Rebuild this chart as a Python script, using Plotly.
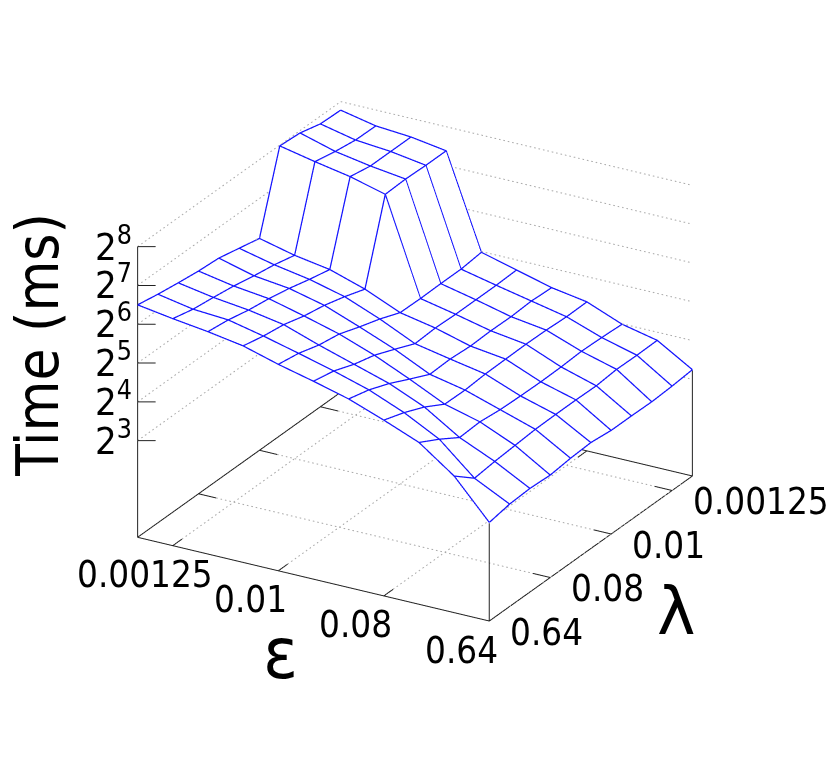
import numpy as np
import plotly.graph_objects as go

eps_values = [0.000625, 0.00125, 0.0025, 0.005, 0.01, 0.02, 0.04, 0.08, 0.16, 0.32, 0.64]
lam_values = [0.64, 0.32, 0.16, 0.08, 0.04, 0.02, 0.01, 0.005, 0.0025, 0.00125, 0.000625]
tick_eps = [0.00125, 0.01, 0.08, 0.64]
tick_eps_text = ["0.00125", "0.01", "0.08", "0.64"]
tick_lam = [0.00125, 0.01, 0.08, 0.64]
tick_lam_text = ["0.00125", "0.01", "0.08", "0.64"]
tick_z = [3, 4, 5, 6, 7, 8]
# log2(time in ms); rows follow eps_values, columns follow lam_values
log2_time = [
    [6.48, 6.38, 6.30, 6.23, 6.19, 6.07, 5.95, 7.96, 7.92, 7.78, 7.76],
    [6.34, 6.21, 6.14, 6.06, 5.95, 5.86, 5.73, 7.77, 7.66, 7.58, 7.57],
    [6.22, 6.15, 6.03, 5.95, 5.84, 5.70, 5.58, 7.60, 7.50, 7.50, 7.50],
    [6.07, 5.95, 5.87, 5.72, 5.62, 5.47, 5.29, 7.36, 7.38, 7.36, 7.36],
    [5.81, 5.72, 5.56, 5.47, 5.28, 5.11, 4.90, 4.89, 4.90, 4.90, 4.96],
    [5.59, 5.48, 5.28, 5.14, 4.92, 4.69, 4.72, 4.70, 4.70, 4.70, 4.72],
    [5.35, 5.21, 5.00, 4.74, 4.49, 4.51, 4.47, 4.49, 4.48, 4.51, 4.48],
    [5.02, 4.84, 4.61, 4.31, 4.30, 4.34, 4.35, 4.36, 4.35, 4.32, 4.33],
    [4.66, 4.37, 4.04, 4.07, 4.01, 3.99, 3.98, 3.99, 4.02, 4.00, 3.97],
    [4.01, 3.58, 3.64, 3.68, 3.72, 3.73, 3.73, 3.72, 3.77, 3.76, 3.77],
    [3.03, 3.13, 3.16, 3.13, 3.19, 3.22, 3.16, 3.16, 3.15, 3.18, 3.23],
]
z_floor, z_top = 0.51, 8.0

X_POS = np.log2(eps_values)
Y_POS = -np.log2(lam_values)
xmin, xmax, ymin, ymax = X_POS[0], X_POS[-1], Y_POS[0], Y_POS[-1]
Z = np.array(log2_time)
BLUE = "#1414ff"
INK = "#222222"
GRID = "#a8a8a8"
FONT = "DejaVu Sans Condensed, DejaVu Sans"
FONT_WIDE = "DejaVu Sans"
PAD = 0.05


def xp(v):
    return float(np.log2(v))


def yp(v):
    return float(-np.log2(v))


def polyline(segments, color, width):
    xs, ys, zs = [], [], []
    for seg in segments:
        for p in seg:
            xs.append(p[0]); ys.append(p[1]); zs.append(p[2])
        xs.append(None); ys.append(None); zs.append(None)
    return go.Scatter3d(x=xs, y=ys, z=zs, mode="lines", hoverinfo="skip", showlegend=False,
                        line=dict(color=color, width=width))


def dotted(a, b, spacing=4.5, dot=1.6):
    """Break a run into fine dots, spaced by approximate picture distance."""
    a, b = np.array(a, float), np.array(b, float)
    dx, dy, dz = b - a
    sx = dx * 35.17 + dy * 20.33
    sy = dx * 8.37 - dy * 14.5 - dz * 38.8
    length = float(np.hypot(sx, sy))
    n = max(1, int(length / spacing))
    out = []
    for k in range(n):
        t0 = k / n
        t1 = min(1.0, t0 + dot / length)
        out.append([tuple(a + (b - a) * t0), tuple(a + (b - a) * t1)])
    return out


fig = go.Figure()
# z is indexed [y, x] for a surface
fig.add_trace(go.Surface(
    x=X_POS, y=Y_POS, z=Z.T, showscale=False, hoverinfo="skip",
    colorscale=[[0, "white"], [1, "white"]],
    lighting=dict(ambient=1, diffuse=0, specular=0, roughness=1, fresnel=0),
))

# mesh, just above the white sheet
lift = 0.02
mesh = []
for i in range(11):
    mesh.append([(X_POS[i], Y_POS[j], Z[i, j] + lift) for j in range(11)])
for j in range(11):
    mesh.append([(X_POS[i], Y_POS[j], Z[i, j] + lift) for i in range(11)])
fig.add_trace(polyline(mesh, BLUE, 2.5))

# box
box = [
    [(xmin, ymin, z_top), (xmin, ymin, z_floor), (xmax, ymin, z_floor), (xmax, ymax, z_floor), (xmin, ymax, z_floor), (xmin, ymin, z_floor)],
    [(xmax, ymin, z_floor), (xmax, ymin, Z[-1, 0])],
    [(xmax, ymax, z_floor), (xmax, ymax, Z[-1, -1])],
]
tx, ty = 0.45, 0.5
ticks = []
for v in tick_eps:
    ticks.append([(xp(v), ymin, z_floor), (xp(v), ymin + tx, z_floor)])
    if v != tick_eps[-1]:
        ticks.append([(xp(v), ymax, z_floor), (xp(v), ymax - tx, z_floor)])
for v in tick_lam[:-1]:
    ticks.append([(xmin, yp(v), z_floor), (xmin + ty, yp(v), z_floor)])
    ticks.append([(xmax, yp(v), z_floor), (xmax - ty, yp(v), z_floor)])
for v in tick_z:
    ticks.append([(xmin, ymin, v), (xmin + 0.384, ymin + 0.222, v)])
fig.add_trace(polyline(box + ticks, INK, 2))

# dotted grid
grid = []
for v in tick_eps:
    grid += dotted((xp(v), ymin + tx, z_floor), (xp(v), ymax - tx, z_floor))
for v in tick_lam[:-1]:
    grid += dotted((xmin + ty, yp(v), z_floor), (xmax - ty, yp(v), z_floor))
for v in tick_z:
    grid += dotted((xmin, ymin, v), (xmin, ymax, v))
    grid += dotted((xmin, ymax, v), (xmax, ymax, v))
fig.add_trace(polyline(grid, GRID, 2))

ann = []
for v, t in zip(tick_eps, tick_eps_text):
    ann.append(dict(x=xp(v), y=ymin, z=z_floor, text=t, showarrow=False, xanchor="center", yanchor="middle",
                    xshift=-28, yshift=-29, font=dict(family=FONT, size=36.5, color="black")))
for v, t in zip(tick_lam, tick_lam_text):
    ann.append(dict(x=xmax, y=yp(v), z=z_floor, text=t, showarrow=False, xanchor="left", yanchor="middle",
                    xshift=19, yshift=-11, font=dict(family=FONT, size=36.5, color="black")))
for v in tick_z:
    ann.append(dict(x=xmin, y=ymin, z=v, text=f"2<sup>{v}</sup>", showarrow=False, xanchor="right", yanchor="middle",
                    xshift=-4, yshift=3, font=dict(family=FONT, size=38, color="black")))

d = 2.0
center_z = -0.0635
el, az = np.radians(24.35), np.radians(30)
eye = dict(x=d * np.cos(el) * np.sin(az), y=-d * np.cos(el) * np.cos(az), z=d * np.sin(el) + center_z)

hidden = dict(visible=False, showgrid=False, zeroline=False, showticklabels=False, showspikes=False)
fig.update_layout(
    width=830, height=767, margin=dict(l=0, r=0, t=0, b=0),
    paper_bgcolor="white", showlegend=False,
    scene=dict(
        bgcolor="white",
        xaxis=dict(range=[xmin - PAD, xmax + PAD], **hidden),
        yaxis=dict(range=[ymin - PAD, ymax + PAD], **hidden),
        zaxis=dict(range=[z_floor - PAD, z_top + PAD], **hidden),
        aspectmode="manual", aspectratio=dict(x=1.0696, y=1.0696, z=0.843),
        camera=dict(eye=eye, up=dict(x=0, y=0, z=1), center=dict(x=0, y=0, z=center_z),
                    projection=dict(type="orthographic")),
        annotations=ann,
        domain=dict(x=[0, 1], y=[0, 1]),
    ),
    annotations=[
        dict(x=38 / 830, y=1 - 345 / 767, xref="paper", yref="paper", xanchor="center", yanchor="middle",
             text="Time (ms)", textangle=-90, showarrow=False, font=dict(family=FONT, size=58, color="black")),
        dict(x=280 / 830, y=1 - 653 / 767, xref="paper", yref="paper", xanchor="center", yanchor="middle",
             text="ε", showarrow=False, font=dict(family=FONT, size=72, color="black")),
        dict(x=676 / 830, y=1 - 611 / 767, xref="paper", yref="paper", xanchor="center", yanchor="middle",
             text="λ", showarrow=False, font=dict(family=FONT_WIDE, size=65, color="black")),
    ],
)
fig.write_html("out.html", config=dict(displayModeBar=False), post_script="document.body.style.margin='0';")
